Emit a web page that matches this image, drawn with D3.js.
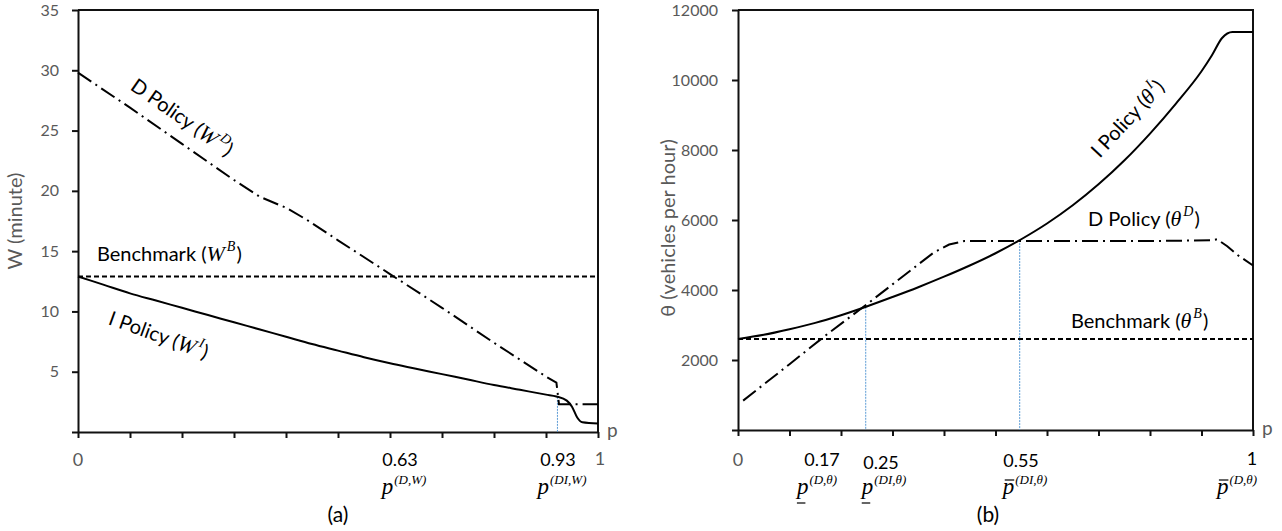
<!DOCTYPE html>
<html><head><meta charset="utf-8">
<script src="https://cdn.jsdelivr.net/npm/d3@7"></script>
<style>
body{margin:0;background:#fff;}
svg{display:block;}
text{font-family:Lato,"Open Sans",sans-serif;}
</style></head>
<body>
<svg id="chart" width="1282" height="531"></svg>
<script>
// ---------- Data: panel (a) waiting time W (minute) vs p ----------
const pA_D = [0,0.1,0.2,0.3,0.35,0.4,0.44,0.5,0.6,0.7,0.8,0.9,0.92,0.925,0.95,1];
const wD   = [29.8,26.9,23.9,20.9,19.5,18.6,17.6,15.9,13.1,10.3,7.4,4.6,4.1,2.3,2.3,2.3];
const pA_I = [0,0.05,0.1,0.15,0.2,0.25,0.3,0.35,0.4,0.45,0.5,0.55,0.6,0.65,0.7,0.75,0.8,0.85,0.9,0.92,0.94,0.95,0.96,0.97,1];
const wI   = [12.9,12.2,11.5,10.9,10.3,9.7,9.1,8.5,7.9,7.3,6.75,6.2,5.7,5.25,4.8,4.35,3.9,3.5,3.1,2.95,2.6,2.1,1.2,0.8,0.7];
const wBench = 12.9;
const yTicksA = [0,5,10,15,20,25,30,35];
const pMarkA = 0.922;   // threshold p^(DI,W)

// ---------- Data: panel (b) throughput theta (vehicles per hour) vs p ----------
const pB_D = [0.01,0.1,0.17,0.25,0.3,0.35,0.38,0.41,0.44,0.6,0.8,0.92,0.93,0.95,0.97,1];
const thD  = [840,1880,2700,3590,4160,4730,5070,5300,5400,5400,5400,5420,5450,5250,5000,4700];
const pB_I = [0,0.05,0.1,0.15,0.2,0.25,0.3,0.35,0.4,0.45,0.5,0.55,0.6,0.65,0.7,0.75,0.8,0.85,0.9,0.92,0.94,0.96,1];
const thI  = [2600,2720,2880,3060,3280,3530,3800,4080,4380,4700,5050,5450,5900,6420,7020,7700,8470,9320,10250,10700,11200,11370,11370];
const thBench = 2600;
const yTicksB = [0,2000,4000,6000,8000,10000,12000];
const pMarksB = [0.248, 0.547];

const xTicks = [0,0.1,0.2,0.3,0.4,0.5,0.6,0.7,0.8,0.9,1];

const svg = d3.select("#chart");
const GRAY = "#595959";
const BLUE = "#5b9bd5";
const MATH = "'Liberation Serif','DejaVu Serif',serif";

function interp(ps, vs, p){
  for(let i=1;i<ps.length;i++){ if(p<=ps[i]){ const t=(p-ps[i-1])/(ps[i]-ps[i-1]); return vs[i-1]+t*(vs[i]-vs[i-1]); } }
  return vs[vs.length-1];
}

function panel(cfg){
  const x = d3.scaleLinear().domain([0,1]).range(cfg.xr);
  const y = d3.scaleLinear().domain(cfg.yd).range(cfg.yr);
  const g = svg.append("g");
  g.append("path").attr("d", `M${x(0)},${y(cfg.yd[1])}H${x(1)}V${y(0)}`)
    .attr("fill","none").attr("stroke","#111").attr("stroke-width",2);
  const ya = g.append("g").attr("transform",`translate(${x(0)},0)`)
    .call(d3.axisLeft(y).tickValues(cfg.yt).tickSize(6).tickSizeOuter(0).tickPadding(cfg.pad)
      .tickFormat(d=> d===0 ? "" : d));
  ya.selectAll("path,line").attr("stroke","#111").attr("stroke-width",2);
  ya.selectAll("text").attr("fill",GRAY).style("font-size","16px").style("font-family","Lato");
  const xa = g.append("g").attr("transform",`translate(0,${y(0)})`)
    .call(d3.axisBottom(x).tickValues(xTicks).tickSize(6).tickSizeOuter(0).tickFormat(""));
  xa.selectAll("path,line").attr("stroke","#111").attr("stroke-width",2);
  g.append("text").attr("x",x(1)+9).attr("y",y(0)+5).attr("fill",GRAY).style("font-size","19px").text("p");
  g.append("text").attr("transform",`translate(${cfg.titleX},${(y(0)+y(cfg.yd[1]))/2+cfg.titleDy}) rotate(-90)`)
    .attr("text-anchor","middle").attr("dominant-baseline","middle").attr("fill",GRAY)
    .style("font-size","20px").text(cfg.title);
  const line = d3.line().x(d=>x(d[0])).y(d=>y(d[1]));
  const smooth = d3.line().curve(d3.curveMonotoneX).x(d=>x(d[0])).y(d=>y(d[1]));
  return {x,y,g,line,smooth};
}

// ---------- Panel (a) ----------
const A = panel({xr:[78,598], yd:[0,35], yr:[432,10], yt:yTicksA, pad:13, title:"W (minute)", titleX:17, titleDy:0});
A.g.append("line").attr("x1",A.x(pMarkA)).attr("x2",A.x(pMarkA))
  .attr("y1",A.y(interp(pA_I,wI,pMarkA))).attr("y2",A.y(0))
  .attr("stroke",BLUE).attr("stroke-width",1).attr("stroke-dasharray","2,1");
A.g.append("path").attr("d",A.line([[0,wBench],[1,wBench]])).attr("fill","none")
  .attr("stroke","#000").attr("stroke-width",2).attr("stroke-dasharray","5,3");
A.g.append("path").attr("d",A.line(pA_D.map((p,i)=>[p,wD[i]]))).attr("fill","none")
  .attr("stroke","#000").attr("stroke-width",2).attr("stroke-dasharray","16,5,2,5");
A.g.append("path").attr("d",A.smooth(pA_I.map((p,i)=>[p,wI[i]]))).attr("fill","none")
  .attr("stroke","#000").attr("stroke-width",2).attr("stroke-linejoin","round");

// ---------- Panel (b) ----------
const B = panel({xr:[738,1253], yd:[0,12000], yr:[430,10], yt:yTicksB, pad:14, title:"θ (vehicles per hour)", titleX:670, titleDy:8});
pMarksB.forEach(p=>{
  B.g.append("line").attr("x1",B.x(p)).attr("x2",B.x(p))
    .attr("y1",B.y(interp(pB_I,thI,p))).attr("y2",B.y(0))
    .attr("stroke",BLUE).attr("stroke-width",1).attr("stroke-dasharray","2,1");
});
B.g.append("path").attr("d",B.line([[0,thBench],[1,thBench]])).attr("fill","none")
  .attr("stroke","#000").attr("stroke-width",2).attr("stroke-dasharray","5,3");
B.g.append("path").attr("d",B.line(pB_D.map((p,i)=>[p,thD[i]]))).attr("fill","none")
  .attr("stroke","#000").attr("stroke-width",2).attr("stroke-dasharray","16,5,2,5");
B.g.append("path").attr("d",B.smooth(pB_I.map((p,i)=>[p,thI[i]]))).attr("fill","none")
  .attr("stroke","#000").attr("stroke-width",2);

// ---------- Annotations ----------
function mathLabel(g, opts){
  const t = g.append("text").attr("text-anchor",opts.anchor||"start")
    .attr("dominant-baseline","middle").attr("fill","#000").style("font-size","20px")
    .attr("transform",`translate(${opts.x},${opts.y}) rotate(${opts.rot||0})`);
  t.append("tspan").text(opts.pre + " (");
  t.append("tspan").style("font-family",MATH).style("font-style","italic").style("font-size","22px").text(opts.sym);
  t.append("tspan").style("font-family",MATH).style("font-style","italic").style("font-size","14px").attr("dx",2).attr("dy",-8).text(opts.sup);
  t.append("tspan").attr("dx",1).attr("dy",8).text(")");
}
mathLabel(A.g,{x:181,y:119,rot:35,anchor:"middle",pre:"D Policy",sym:"W",sup:"D"});
mathLabel(A.g,{x:97,y:256,pre:"Benchmark",sym:"W",sup:"B"});
mathLabel(A.g,{x:158,y:337,rot:20,anchor:"middle",pre:"I Policy",sym:"W",sup:"I"});
mathLabel(B.g,{x:1129,y:120,rot:-47,anchor:"middle",pre:"I Policy",sym:"θ",sup:"I"});
mathLabel(B.g,{x:1088,y:221,pre:"D Policy",sym:"θ",sup:"D"});
mathLabel(B.g,{x:1071,y:323,pre:"Benchmark",sym:"θ",sup:"B"});

// ---------- Bottom tick annotations ----------
const numLabels = [
  {g:A.g, x:78,  y:461, t:"0", c:GRAY},
  {g:A.g, x:400, y:461, t:"0.63", c:"#000"},
  {g:A.g, x:558, y:461, t:"0.93", c:"#000"},
  {g:A.g, x:600, y:460, t:"1", c:GRAY},
  {g:B.g, x:738, y:461, t:"0", c:GRAY},
  {g:B.g, x:822, y:461, t:"0.17", c:"#000"},
  {g:B.g, x:881, y:464, t:"0.25", c:"#000"},
  {g:B.g, x:1021,y:462, t:"0.55", c:"#000"},
  {g:B.g, x:1252,y:460, t:"1", c:"#000"}
];
numLabels.forEach(d=>{
  d.g.append("text").attr("x",d.x).attr("y",d.y).attr("text-anchor","middle")
    .attr("dominant-baseline","middle").attr("fill",d.c).style("font-size","18px").text(d.t);
});

const pLabels = [
  {g:A.g, x:404, sup:"(D,W)", deco:null},
  {g:A.g, x:562, sup:"(DI,W)", deco:null},
  {g:B.g, x:817, sup:"(D,θ)", deco:"under"},
  {g:B.g, x:884, sup:"(DI,θ)", deco:"under"},
  {g:B.g, x:1025,sup:"(DI,θ)", deco:"over"},
  {g:B.g, x:1237,sup:"(D,θ)", deco:"over"}
];
pLabels.forEach(d=>{
  const t = d.g.append("text").attr("x",d.x).attr("y",494).attr("text-anchor","middle")
    .style("font-family",MATH).style("font-style","italic").attr("fill","#000");
  t.append("tspan").style("font-size","23px").text("p");
  t.append("tspan").style("font-size","13px").attr("dx",1).attr("dy",-10).text(d.sup);
  if(d.deco){
    const r = t.node().getExtentOfChar(0);
    const yy = d.deco==="under" ? 494+9 : 494-14;
    const x0 = r.x + (d.deco==="under" ? 0 : 2), x1 = r.x + r.width - (d.deco==="under" ? 3 : 0);
    d.g.append("line").attr("x1",x0).attr("x2",x1).attr("y1",yy).attr("y2",yy)
      .attr("stroke","#000").attr("stroke-width",1.2);
  }
});

svg.append("text").attr("x",338).attr("y",517).attr("text-anchor","middle").attr("dominant-baseline","middle")
  .style("font-size","21px").attr("fill","#000").text("(a)");
svg.append("text").attr("x",988).attr("y",517).attr("text-anchor","middle").attr("dominant-baseline","middle")
  .style("font-size","21px").attr("fill","#000").text("(b)");
</script>
</body></html>
